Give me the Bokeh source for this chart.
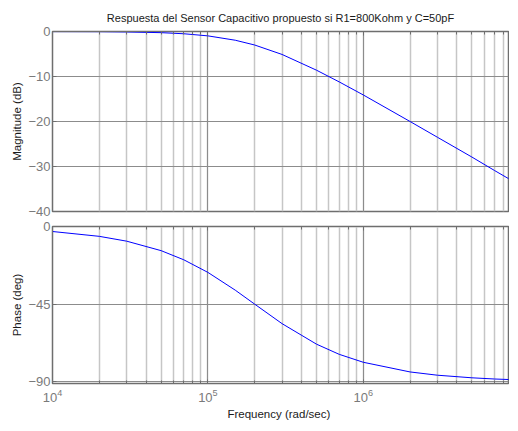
from bokeh.plotting import figure
from bokeh.layouts import column
from bokeh.models import LogAxis, Range1d, FixedTicker, CustomJSTickFormatter
from bokeh.embed import file_html
from bokeh.resources import INLINE

# ---- data ----
freq = [1e4, 2e4, 3e4, 5e4, 7e4, 1e5, 1.5e5, 2e5, 3e5, 5e5, 7e5,
        1e6, 2e6, 3e6, 5e6, 7e6, 1e7]
mag_db = [-0.02, -0.04, -0.1, -0.26, -0.5, -0.97, -1.94, -3.0, -5.1, -8.6, -11.2,
          -14.1, -20.0, -23.5, -27.9, -30.9, -34.0]
phase_deg = [-2.9, -5.7, -8.5, -14.0, -19.3, -26.6, -36.9, -45.0, -56.3, -68.2, -74.1,
             -78.7, -84.3, -86.2, -87.7, -88.4, -88.9]
mag_ticks = [0, -10, -20, -30, -40]
phase_ticks = [0, -45, -90]
title_text = "Respuesta del Sensor Capacitivo propuesto si R1=800Kohm y C=50pF"
mag_label = "Magnitude (dB)"
phase_label = "Phase (deg)"
freq_label = "Frequency  (rad/sec)"

FONT = "Liberation Sans"
TICK_COLOR = "#7a7a7a"
BOX_COLOR = "#6e6e6e"
LINE_COLOR = "#0000ff"


def blank():
    return CustomJSTickFormatter(code="return ' ';")


def tick_style(ax):
    ax.major_label_text_font = FONT
    ax.major_label_text_font_size = "13px"
    ax.major_label_text_color = TICK_COLOR
    ax.axis_line_color = BOX_COLOR
    ax.major_tick_line_color = BOX_COLOR
    ax.minor_tick_line_color = BOX_COLOR
    ax.major_tick_in = 4
    ax.major_tick_out = 0
    ax.minor_tick_in = 3
    ax.minor_tick_out = 0


def blank_axis(ax):
    ax.formatter = blank()
    tick_style(ax)
    ax.major_label_text_font_size = "2px"
    ax.major_label_standoff = 0
    ax.axis_label_standoff = 0


def style(p, yticks, ylabel):
    p.outline_line_color = BOX_COLOR
    p.outline_line_width = 1.5
    left = p.left[0]
    left.ticker = FixedTicker(ticks=yticks)
    left.axis_label = ylabel
    left.axis_label_text_font = FONT
    left.axis_label_text_font_size = "11.5px"
    left.axis_label_text_font_style = "normal"
    left.axis_label_text_color = "#1a1a1a"
    left.axis_label_standoff = 2
    left.major_label_standoff = 2
    tick_style(left)
    p.xgrid.grid_line_color = "#8c8c8c"
    p.xgrid.grid_line_width = 1
    p.xgrid.minor_grid_line_color = "#c6c6c6"
    p.xgrid.minor_grid_line_width = 1.5
    p.ygrid.grid_line_color = "#8c8c8c"
    p.ygrid.grid_line_width = 1


# the reference is cropped on the right, just before 10^7
x_range = Range1d(1e4, 8.6e6)

p1 = figure(frame_width=456, frame_height=180, x_axis_type="log", x_axis_location="above",
            x_range=x_range, y_range=Range1d(-40, 0),
            output_backend="svg", toolbar_location=None,
            min_border_left=0, min_border_right=1, min_border_top=0, min_border_bottom=7,
            title=title_text, margin=(7, 0, 0, 8))
p1.title.align = "center"
p1.title.text_font = FONT
p1.title.text_font_size = "11px"
p1.title.text_font_style = "normal"
p1.title.text_color = "#1a1a1a"
p1.title.standoff = 5
p1.line(freq, mag_db, line_color=LINE_COLOR, line_width=1)
style(p1, mag_ticks, mag_label)
blank_axis(p1.above[0])

p2 = figure(frame_width=456, frame_height=157, x_axis_type="log",
            x_range=x_range, y_range=Range1d(-91, 0),
            output_backend="svg", toolbar_location=None,
            min_border_left=0, min_border_right=1, min_border_top=8, min_border_bottom=0,
            margin=(0, 0, 0, 8))
p2.line(freq, phase_deg, line_color=LINE_COLOR, line_width=1)
style(p2, phase_ticks, phase_label)
top2 = LogAxis()
blank_axis(top2)
p2.add_layout(top2, "above")
b2 = p2.below[0]
tick_style(b2)
b2.axis_label = freq_label
b2.axis_label_text_font = FONT
b2.axis_label_text_font_size = "11.5px"
b2.axis_label_text_font_style = "normal"
b2.axis_label_text_color = "#1a1a1a"
b2.major_label_standoff = 5
b2.axis_label_standoff = 3

layout = column(p1, p2, spacing=0)
open("out.html", "w").write(file_html(layout, INLINE))
